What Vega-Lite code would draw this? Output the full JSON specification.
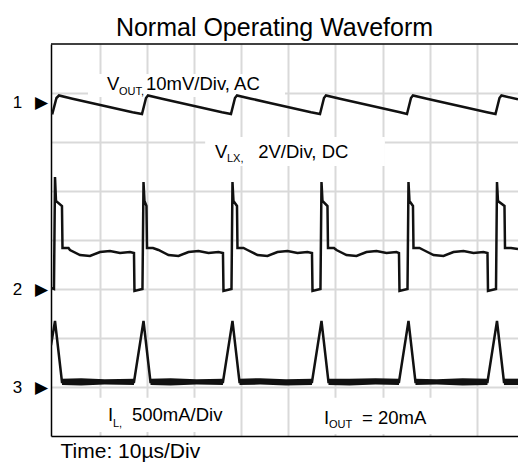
{
"$schema": "https://vega.github.io/schema/vega-lite/v6.json",
"width": 467, "height": 392,
"autosize": {"type": "none"},
"padding": {"left": 51, "top": 44, "right": 0, "bottom": 36},
"background": "white",
"config": {"view": {"stroke": null}, "font": "Liberation Sans"},
"title": {"text": "Normal Operating Waveform", "fontSize": 25, "font": "Liberation Sans", "fontWeight": "normal", "color": "black", "anchor": "middle", "dx": -10, "dy": 29, "offset": 6, "baseline": "bottom"},
"datasets": {
"boxes": [
{"t": 7.45, "t2": 49.28, "v": 6.918, "v2": 7.388},
{"t": 32.33, "t2": 70.49, "v": 5.51, "v2": 6.102},
{"t": 9.6, "t2": 38.7, "v": 0.08, "v2": 0.78},
{"t": 52.5, "t2": 83.2, "v": 0.04, "v2": 0.78}
],
"border": [
{"t": -0.4, "t2": 98.75, "v": 8}
],
"noise": [
{"seg": 1, "t": 1.94, "v": 1.04, "v2": 1.17}, {"seg": 1, "t": 6.0, "v": 1.03, "v2": 1.18}, {"seg": 1, "t": 11.0, "v": 1.05, "v2": 1.16}, {"seg": 1, "t": 17.22, "v": 1.04, "v2": 1.17},
{"seg": 2, "t": 20.72, "v": 1.04, "v2": 1.17}, {"seg": 2, "t": 25.0, "v": 1.03, "v2": 1.18}, {"seg": 2, "t": 30.5, "v": 1.05, "v2": 1.16}, {"seg": 2, "t": 36.11, "v": 1.04, "v2": 1.17},
{"seg": 3, "t": 39.62, "v": 1.04, "v2": 1.17}, {"seg": 3, "t": 44.0, "v": 1.05, "v2": 1.18}, {"seg": 3, "t": 49.5, "v": 1.03, "v2": 1.16}, {"seg": 3, "t": 55.01, "v": 1.04, "v2": 1.17},
{"seg": 4, "t": 58.51, "v": 1.04, "v2": 1.17}, {"seg": 4, "t": 63.0, "v": 1.03, "v2": 1.17}, {"seg": 4, "t": 68.5, "v": 1.05, "v2": 1.18}, {"seg": 4, "t": 73.48, "v": 1.04, "v2": 1.17},
{"seg": 5, "t": 76.98, "v": 1.04, "v2": 1.17}, {"seg": 5, "t": 81.5, "v": 1.05, "v2": 1.16}, {"seg": 5, "t": 87.0, "v": 1.03, "v2": 1.18}, {"seg": 5, "t": 92.27, "v": 1.04, "v2": 1.17},
{"seg": 6, "t": 95.77, "v": 1.04, "v2": 1.17}, {"seg": 6, "t": 98.75, "v": 1.04, "v2": 1.17}
],
"traces": [
{"series": "VOUT", "t": -0.40, "v": 6.60}, {"series": "VOUT", "t": -0.08, "v": 6.59}, {"series": "VOUT", "t": 0.76, "v": 6.898}, {"series": "VOUT", "t": 1.30, "v": 6.949}, {"series": "VOUT", "t": 4.16, "v": 6.884}, {"series": "VOUT", "t": 8.41, "v": 6.792}, {"series": "VOUT", "t": 12.65, "v": 6.70}, {"series": "VOUT", "t": 16.90, "v": 6.608},
{"series": "VOUT", "t": 18.92, "v": 6.571}, {"series": "VOUT", "t": 19.77, "v": 6.898}, {"series": "VOUT", "t": 20.19, "v": 6.949}, {"series": "VOUT", "t": 23.16, "v": 6.884}, {"series": "VOUT", "t": 27.41, "v": 6.792}, {"series": "VOUT", "t": 31.66, "v": 6.70}, {"series": "VOUT", "t": 35.90, "v": 6.608},
{"series": "VOUT", "t": 37.81, "v": 6.571}, {"series": "VOUT", "t": 38.66, "v": 6.898}, {"series": "VOUT", "t": 39.09, "v": 6.949}, {"series": "VOUT", "t": 42.06, "v": 6.884}, {"series": "VOUT", "t": 46.30, "v": 6.792}, {"series": "VOUT", "t": 50.55, "v": 6.70}, {"series": "VOUT", "t": 54.80, "v": 6.608},
{"series": "VOUT", "t": 56.71, "v": 6.571}, {"series": "VOUT", "t": 57.56, "v": 6.898}, {"series": "VOUT", "t": 57.98, "v": 6.949}, {"series": "VOUT", "t": 60.95, "v": 6.884}, {"series": "VOUT", "t": 65.20, "v": 6.792}, {"series": "VOUT", "t": 69.45, "v": 6.70}, {"series": "VOUT", "t": 73.69, "v": 6.608},
{"series": "VOUT", "t": 75.18, "v": 6.571}, {"series": "VOUT", "t": 76.03, "v": 6.898}, {"series": "VOUT", "t": 76.45, "v": 6.949}, {"series": "VOUT", "t": 79.42, "v": 6.884}, {"series": "VOUT", "t": 83.67, "v": 6.792}, {"series": "VOUT", "t": 87.92, "v": 6.70}, {"series": "VOUT", "t": 92.16, "v": 6.608},
{"series": "VOUT", "t": 93.97, "v": 6.571}, {"series": "VOUT", "t": 94.82, "v": 6.898}, {"series": "VOUT", "t": 95.24, "v": 6.949}, {"series": "VOUT", "t": 98.75, "v": 6.873},

{"series": "VLX", "t": -0.40, "v": 3.02}, {"series": "VLX", "t": 0.23, "v": 3.0}, {"series": "VLX", "t": 0.45, "v": 5.286}, {"series": "VLX", "t": 0.66, "v": 4.796}, {"series": "VLX", "t": 1.93, "v": 4.694}, {"series": "VLX", "t": 2.04, "v": 3.837}, {"series": "VLX", "t": 3.31, "v": 3.837}, {"series": "VLX", "t": 3.63, "v": 3.796}, {"series": "VLX", "t": 5.75, "v": 3.694}, {"series": "VLX", "t": 7.88, "v": 3.673}, {"series": "VLX", "t": 10.0, "v": 3.755}, {"series": "VLX", "t": 12.12, "v": 3.776}, {"series": "VLX", "t": 14.25, "v": 3.735}, {"series": "VLX", "t": 16.37, "v": 3.755},
{"series": "VLX", "t": 17.22, "v": 3.735}, {"series": "VLX", "t": 17.32, "v": 2.959}, {"series": "VLX", "t": 19.02, "v": 3.0}, {"series": "VLX", "t": 19.24, "v": 5.184}, {"series": "VLX", "t": 19.45, "v": 4.796}, {"series": "VLX", "t": 19.87, "v": 4.694}, {"series": "VLX", "t": 19.98, "v": 3.837}, {"series": "VLX", "t": 21.25, "v": 3.837}, {"series": "VLX", "t": 22.42, "v": 3.796}, {"series": "VLX", "t": 24.54, "v": 3.694}, {"series": "VLX", "t": 26.67, "v": 3.673}, {"series": "VLX", "t": 28.79, "v": 3.755}, {"series": "VLX", "t": 30.91, "v": 3.776}, {"series": "VLX", "t": 33.04, "v": 3.735}, {"series": "VLX", "t": 35.16, "v": 3.755},
{"series": "VLX", "t": 36.11, "v": 3.735}, {"series": "VLX", "t": 36.22, "v": 2.959}, {"series": "VLX", "t": 37.92, "v": 3.0}, {"series": "VLX", "t": 38.13, "v": 5.184}, {"series": "VLX", "t": 38.34, "v": 4.796}, {"series": "VLX", "t": 39.09, "v": 4.694}, {"series": "VLX", "t": 39.19, "v": 3.837}, {"series": "VLX", "t": 40.47, "v": 3.837}, {"series": "VLX", "t": 41.31, "v": 3.796}, {"series": "VLX", "t": 43.44, "v": 3.694}, {"series": "VLX", "t": 45.56, "v": 3.673}, {"series": "VLX", "t": 47.68, "v": 3.755}, {"series": "VLX", "t": 49.81, "v": 3.776}, {"series": "VLX", "t": 51.93, "v": 3.735}, {"series": "VLX", "t": 54.05, "v": 3.755},
{"series": "VLX", "t": 55.01, "v": 3.735}, {"series": "VLX", "t": 55.12, "v": 2.959}, {"series": "VLX", "t": 56.81, "v": 3.0}, {"series": "VLX", "t": 57.03, "v": 5.184}, {"series": "VLX", "t": 57.24, "v": 4.796}, {"series": "VLX", "t": 58.30, "v": 4.694}, {"series": "VLX", "t": 58.41, "v": 3.837}, {"series": "VLX", "t": 59.68, "v": 3.837}, {"series": "VLX", "t": 60.21, "v": 3.796}, {"series": "VLX", "t": 62.33, "v": 3.694}, {"series": "VLX", "t": 64.46, "v": 3.673}, {"series": "VLX", "t": 66.58, "v": 3.755}, {"series": "VLX", "t": 68.70, "v": 3.776}, {"series": "VLX", "t": 70.83, "v": 3.735}, {"series": "VLX", "t": 72.95, "v": 3.755},
{"series": "VLX", "t": 73.48, "v": 3.735}, {"series": "VLX", "t": 73.59, "v": 2.959}, {"series": "VLX", "t": 75.29, "v": 3.0}, {"series": "VLX", "t": 75.50, "v": 5.184}, {"series": "VLX", "t": 75.71, "v": 4.796}, {"series": "VLX", "t": 76.45, "v": 4.694}, {"series": "VLX", "t": 76.56, "v": 3.837}, {"series": "VLX", "t": 77.83, "v": 3.837}, {"series": "VLX", "t": 78.68, "v": 3.796}, {"series": "VLX", "t": 80.81, "v": 3.694}, {"series": "VLX", "t": 82.93, "v": 3.673}, {"series": "VLX", "t": 85.05, "v": 3.755}, {"series": "VLX", "t": 87.18, "v": 3.776}, {"series": "VLX", "t": 89.30, "v": 3.735}, {"series": "VLX", "t": 91.42, "v": 3.755},
{"series": "VLX", "t": 92.27, "v": 3.735}, {"series": "VLX", "t": 92.38, "v": 2.959}, {"series": "VLX", "t": 94.08, "v": 3.0}, {"series": "VLX", "t": 94.29, "v": 5.184}, {"series": "VLX", "t": 94.50, "v": 4.796}, {"series": "VLX", "t": 95.88, "v": 4.694}, {"series": "VLX", "t": 95.99, "v": 3.837}, {"series": "VLX", "t": 97.26, "v": 3.837}, {"series": "VLX", "t": 98.75, "v": 3.816},

{"series": "IL", "t": -0.40, "v": 1.85}, {"series": "IL", "t": 0.45, "v": 2.347}, {"series": "IL", "t": 1.93, "v": 1.102},
{"series": "IL", "t": 17.22, "v": 1.102}, {"series": "IL", "t": 19.24, "v": 2.347}, {"series": "IL", "t": 20.72, "v": 1.102},
{"series": "IL", "t": 36.11, "v": 1.102}, {"series": "IL", "t": 38.13, "v": 2.347}, {"series": "IL", "t": 39.62, "v": 1.102},
{"series": "IL", "t": 55.01, "v": 1.102}, {"series": "IL", "t": 57.03, "v": 2.347}, {"series": "IL", "t": 58.51, "v": 1.102},
{"series": "IL", "t": 73.48, "v": 1.102}, {"series": "IL", "t": 75.50, "v": 2.347}, {"series": "IL", "t": 76.98, "v": 1.102},
{"series": "IL", "t": 92.27, "v": 1.102}, {"series": "IL", "t": 94.29, "v": 2.347}, {"series": "IL", "t": 95.77, "v": 1.102},
{"series": "IL", "t": 98.75, "v": 1.102}
],
"labels": [
{"t": 11.49, "v": 7.061, "text": "V"},
{"t": 19.77, "v": 7.061, "text": "10mV/Div, AC"},
{"t": 34.42, "v": 5.673, "text": "V"},
{"t": 43.6, "v": 5.673, "text": "2V/Div, DC"},
{"t": 11.70, "v": 0.296, "text": "I"},
{"t": 16.79, "v": 0.296, "text": "500mA/Div"},
{"t": 57.56, "v": 0.255, "text": "I"},
{"t": 65.62, "v": 0.255, "text": "= 20mA"}
],
"subs": [
{"t": 14.03, "v": 6.959, "text": "OUT,"},
{"t": 36.96, "v": 5.592, "text": "LX,"},
{"t": 12.76, "v": 0.184, "text": "L,"},
{"t": 58.62, "v": 0.163, "text": "OUT"}
]
},
"encoding": {
"x": {"field": "t", "type": "quantitative", "scale": {"domain": [-0.4, 98.75], "nice": false, "zero": false},
 "axis": {"values": [10, 20, 30, 40, 50, 60, 70, 80, 90], "grid": true, "gridColor": "#d9d9d9", "gridWidth": 2, "ticks": false, "labels": false, "domain": true, "domainColor": "black", "domainWidth": 1.5, "title": "Time: 10µs/Div", "titleFont": "Liberation Sans", "titleFontSize": 21, "titleFontWeight": "normal", "titleColor": "black", "titleAnchor": "start", "titleAlign": "left", "titleBaseline": "alphabetic", "titleX": 9, "titleY": 21}},
"y": {"field": "v", "type": "quantitative", "scale": {"domain": [0, 8], "nice": false, "zero": false},
 "axis": {"values": [1, 2, 3, 4, 5, 6, 7], "grid": true, "gridColor": "#d9d9d9", "gridWidth": 2, "ticks": false, "domain": true, "domainColor": "black", "domainWidth": 1.5, "title": null,
  "labelExpr": "datum.value == 7 ? '1\u2002\u00a0▶' : datum.value == 3 ? '2\u2002\u00a0▶' : datum.value == 1 ? '3\u2002\u00a0▶' : ''",
  "labelFont": "Liberation Sans", "labelFontSize": 17, "labelColor": "black", "labelPadding": 3,
  "labelOffset": {"condition": {"test": "datum.value == 7", "value": 9}, "value": 0}}}
},
"layer": [
{
"data": {"name": "boxes"},
"mark": {"type": "rect", "fill": "white"},
"encoding": {"x2": {"field": "t2"}, "y2": {"field": "v2"}}
},
{
"data": {"name": "border"},
"mark": {"type": "rule", "color": "black", "strokeWidth": 1.5},
"encoding": {"x2": {"field": "t2"}}
},
{
"data": {"name": "noise"},
"mark": {"type": "area", "color": "#111111", "clip": true},
"encoding": {"y2": {"field": "v2"}, "detail": {"field": "seg"}}
},
{
"data": {"name": "traces"},
"mark": {"type": "line", "color": "#111111", "strokeWidth": 2.5, "clip": true},
"encoding": {"detail": {"field": "series"}}
},
{
"data": {"name": "labels"},
"mark": {"type": "text", "align": "left", "baseline": "alphabetic", "fontSize": 18.5, "font": "Liberation Sans", "color": "black"},
"encoding": {"text": {"field": "text"}}
},
{
"data": {"name": "subs"},
"mark": {"type": "text", "align": "left", "baseline": "alphabetic", "fontSize": 11, "font": "Liberation Sans", "color": "black"},
"encoding": {"text": {"field": "text"}}
}
]
}
